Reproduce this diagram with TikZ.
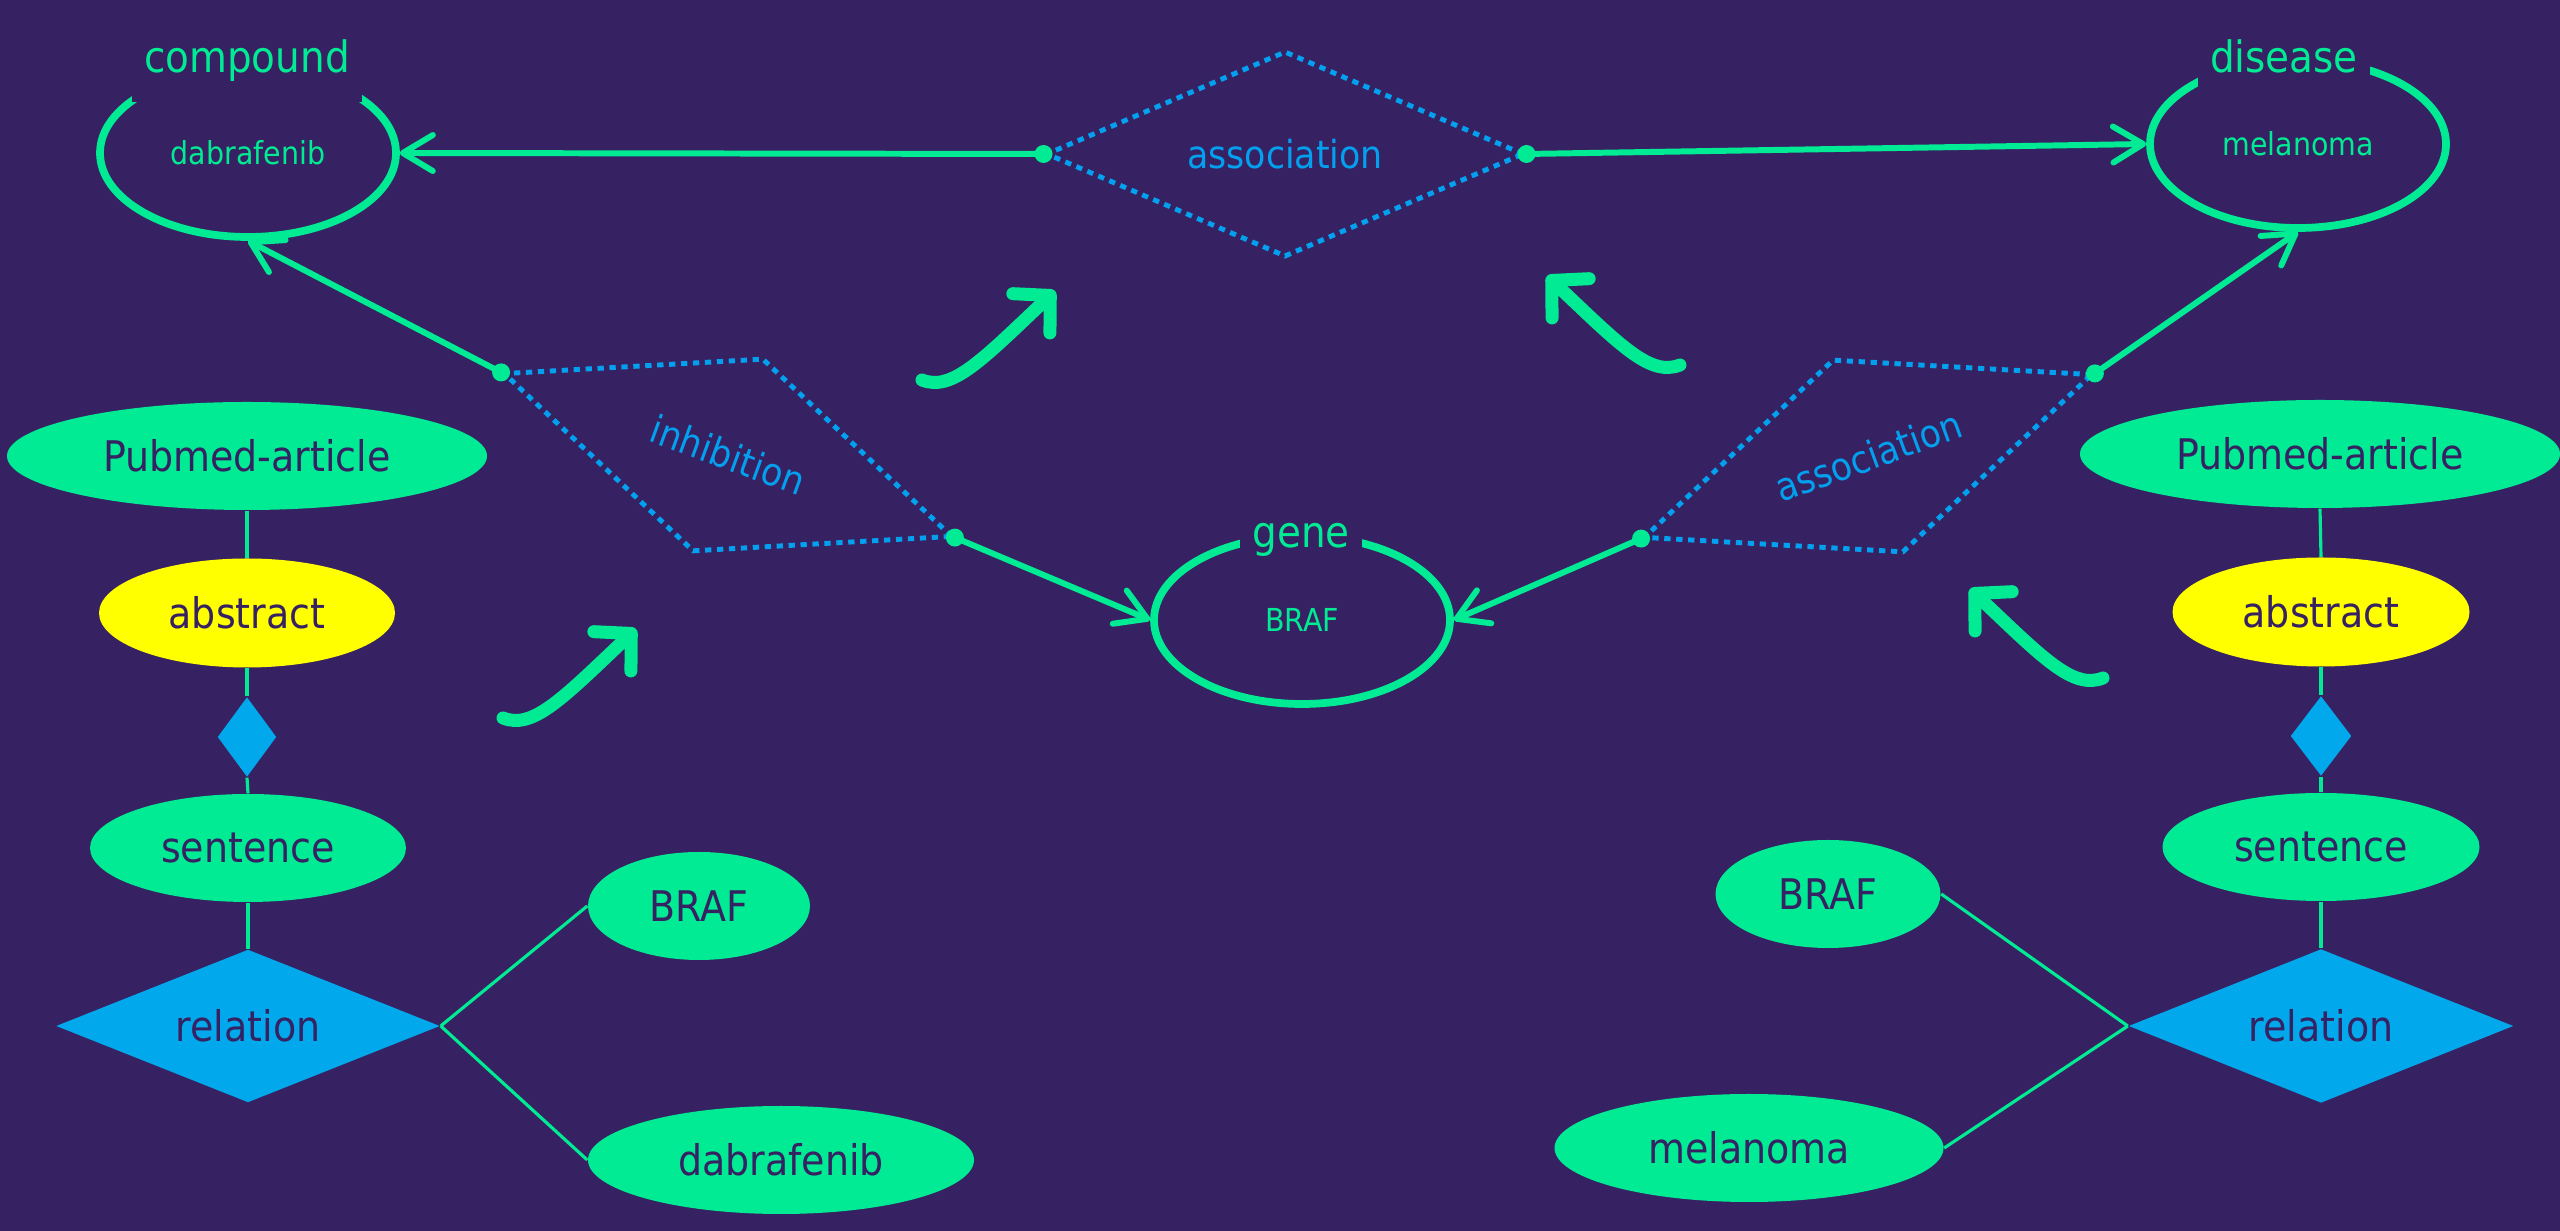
\documentclass[tikz,border=0pt]{standalone}
\usepackage{fontspec}
\setmainfont{DejaVu Sans Condensed}
\usepackage{tikz}
\usetikzlibrary{arrows.meta,shapes.geometric}
\definecolor{bgx}{HTML}{362262}
\definecolor{greenx}{HTML}{00EB93}
\definecolor{bluex}{HTML}{02A8EC}
\definecolor{dotx}{HTML}{02A0EE}
\definecolor{yellowx}{HTML}{FFFF00}
\tikzset{
  ov/.style={ellipse,draw=greenx,line width=2.2pt,minimum width=2.96cm,minimum height=1.68cm,inner sep=0pt,text=greenx,font=\fontsize{9}{11}\selectfont},
  tag/.style={fill=bgx,text=greenx,inner xsep=1.2mm,inner ysep=2mm,anchor=base,font=\fontsize{12.3}{15}\selectfont},
  rl/.style={diamond,draw=dotx,line width=1.4pt,dash pattern=on 1.8pt off 1.6pt,aspect=2.3,minimum width=4.78cm,minimum height=2.06cm,inner sep=0pt,text=dotx,font=\fontsize{11}{13}\selectfont},
  ar/.style={-{Straight Barb[length=3mm,width=3.6mm,round]},line width=1.7pt,draw=greenx},
  sw/.style={-{Straight Barb[length=2.6mm,width=5.4mm,round]},line width=3.7pt,line cap=round,draw=greenx},
  er/.style={ellipse,fill=greenx,minimum height=1.08cm,inner sep=0pt,text=bgx,font=\fontsize{12}{14}\selectfont},
  dm/.style={diamond,fill=bluex,aspect=2.5,inner sep=0pt,text=bgx,font=\fontsize{12}{14}\selectfont},
  ln/.style={draw=greenx,line width=0.9pt}
}
\begin{document}
\begin{tikzpicture}
\fill[bgx] (0,0) rectangle (25.6,-12.31);
\useasboundingbox (0,0) rectangle (25.6,-12.31);

\node[ov] (cmp) at (2.48,-1.53) {dabrafenib};
\node[ov] (dis) at (22.98,-1.44) {melanoma};
\node[ov] (gen) at (13.02,-6.20) {BRAF};
\node[tag] (cmpT) at (2.47,-0.73) {compound};
\node[tag] (disT) at (22.84,-0.73) {disease};
\node[tag] (genT) at (13.01,-5.48) {gene};

\node[rl] (asc) at (12.85,-1.54) {association};
\node[rl,rotate=-20] (inh) at (7.28,-4.55) {inhibition};
\node[rl,rotate=20] (asr) at (18.68,-4.56) {association};

\draw[ar] (asc.west) -- (cmp.east);
\draw[ar] (asc.east) -- (dis.west);
\draw[ar] (inh.west) -- (cmp.south);
\draw[ar] (inh.east) -- (gen.west);
\draw[ar] (asr.east) -- (dis.south);
\draw[ar] (asr.west) -- (gen.east);
\foreach \n in {asc,inh,asr}{
  \fill[greenx] (\n.west) circle (0.09) (\n.east) circle (0.09);
}

\foreach \tx/\ty/\sx in {9.22/-3.80/1,5.03/-7.18/1,16.80/-3.65/-1,21.03/-6.78/-1}{
  \draw[sw,shift={(\tx,\ty)},xscale=\sx] (0,0) .. controls (0.3,-0.12) and (0.6,0.2) .. (1.33,0.89);
}

\node[er,minimum width=4.80cm] (pmL) at (2.47,-4.56) {Pubmed-article};
\node[er,fill=yellowx,minimum width=2.96cm,minimum height=1.09cm] (abL) at (2.47,-6.13) {abstract};
\node[dm,minimum width=0.59cm,minimum height=0.80cm] (dmL) at (2.47,-7.37) {};
\node[er,minimum width=3.16cm] (seL) at (2.48,-8.48) {sentence};
\node[dm,minimum width=3.84cm,minimum height=1.53cm] (reL) at (2.48,-10.26) {relation};
\node[er,minimum width=2.22cm] (brL) at (6.99,-9.06) {BRAF};
\node[er,minimum width=3.86cm] (daL) at (7.81,-11.60) {dabrafenib};
\draw[ln] (pmL.south) -- (abL.north);
\draw[ln] (abL.south) -- (dmL.north);
\draw[ln] (dmL.south) -- (seL.north);
\draw[ln] (seL.south) -- (reL.north);
\draw[ln] (reL.east) -- (brL.west);
\draw[ln] (reL.east) -- (daL.west);

\node[er,minimum width=4.80cm] (pmR) at (23.20,-4.54) {Pubmed-article};
\node[er,fill=yellowx,minimum width=2.97cm,minimum height=1.09cm] (abR) at (23.21,-6.12) {abstract};
\node[dm,minimum width=0.61cm,minimum height=0.80cm] (dmR) at (23.21,-7.36) {};
\node[er,minimum width=3.17cm] (seR) at (23.21,-8.47) {sentence};
\node[dm,minimum width=3.85cm,minimum height=1.54cm] (reR) at (23.21,-10.26) {relation};
\node[er,minimum width=2.25cm] (brR) at (18.28,-8.94) {BRAF};
\node[er,minimum width=3.89cm] (meR) at (17.49,-11.48) {melanoma};
\draw[ln] (pmR.south) -- (abR.north);
\draw[ln] (abR.south) -- (dmR.north);
\draw[ln] (dmR.south) -- (seR.north);
\draw[ln] (seR.south) -- (reR.north);
\draw[ln] (reR.west) -- (brR.east);
\draw[ln] (reR.west) -- (meR.east);
\end{tikzpicture}
\end{document}
